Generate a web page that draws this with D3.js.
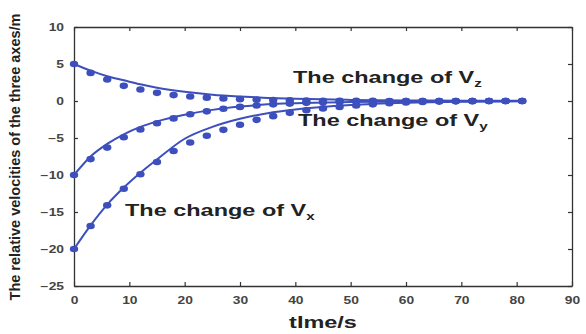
<!DOCTYPE html>
<html>
<head>
<meta charset="utf-8">
<script src="https://cdn.jsdelivr.net/npm/d3@7"></script>
<style>
  body { margin: 0; background: #fff; }
  svg { display: block; font-family: "Liberation Sans", Arial, sans-serif; }
</style>
</head>
<body>
<div id="chart"></div>
<script>
// Set up dimensions
const width = 586;
const height = 334;
const margin = { top: 27, right: 14, bottom: 48, left: 74 };
const innerWidth = width - margin.left - margin.right;
const innerHeight = height - margin.top - margin.bottom;
const stretch = 1.38; // the source picture is widened horizontally

// Data
const sampleTimes = [0, 3, 6, 9, 12, 15, 18, 21, 24, 27, 30, 33, 36, 39, 42, 45, 48, 51, 54, 57, 60, 63, 66, 69, 72, 75, 78, 81];
const vzPoints = [5, 3.8, 2.9, 2.05, 1.55, 1.1, 0.8, 0.6, 0.45, 0.33, 0.25, 0.18, 0.12, 0.08, 0.05, 0.04, 0.03, 0.02, 0.02, 0.01, 0.01, 0, 0, 0, 0, 0, 0, 0];
const vyPoints = [-10, -7.85, -6.3, -4.9, -3.85, -3.0, -2.35, -1.8, -1.4, -1.05, -0.8, -0.6, -0.45, -0.35, -0.25, -0.18, -0.12, -0.08, -0.05, -0.03, -0.02, -0.01, 0, 0, 0, 0, 0, 0];
const vxPoints = [-20, -16.9, -14.1, -11.85, -9.9, -8.25, -6.75, -5.6, -4.7, -3.9, -3.2, -2.55, -2.05, -1.6, -1.25, -1.0, -0.8, -0.6, -0.45, -0.3, -0.2, -0.12, -0.08, -0.05, -0.02, 0, 0, 0];

// Fitted curves
const fitTimes = [0, 3, 6, 9, 12, 15, 20, 25, 30, 35, 40, 50, 60, 70, 81];
const vzFit = [5, 4.1, 3.35, 2.8, 2.25, 1.8, 1.25, 0.85, 0.6, 0.42, 0.3, 0.15, 0.08, 0.04, 0.02];
const vyFit = [-10, -7.5, -5.8, -4.5, -3.5, -2.75, -1.85, -1.2, -0.75, -0.45, -0.3, -0.15, -0.07, -0.03, -0.01];
const vxFit = [-20, -16.8, -14.0, -11.7, -9.7, -7.9, -5.1, -3.5, -2.4, -1.65, -1.15, -0.55, -0.25, -0.1, -0.04];

const xTicks = [0, 10, 20, 30, 40, 50, 60, 70, 80, 90];
const yTicks = [-25, -20, -15, -10, -5, 0, 5, 10];

const blue = "#3c4fbc";

// widen a text (or tspan) without transforms
function widen(sel) {
    sel.each(function () {
        const len = this.getComputedTextLength();
        d3.select(this)
            .attr("textLength", len * stretch)
            .attr("lengthAdjust", "spacingAndGlyphs");
    });
}

const svg = d3.select("#chart").append("svg")
    .attr("width", width)
    .attr("height", height);

const chart = svg.append("g")
    .attr("transform", `translate(${margin.left}, ${margin.top})`);

const xScale = d3.scaleLinear().domain([0, 90]).range([0, innerWidth]);
const yScale = d3.scaleLinear().domain([-25, 10]).range([innerHeight, 0]);

// Axes with inward ticks
const xAxisGroup = chart.append("g")
    .attr("transform", `translate(0, ${innerHeight})`)
    .call(d3.axisBottom(xScale).tickValues(xTicks).tickSizeInner(-4).tickSizeOuter(0).tickPadding(11));
const yAxisGroup = chart.append("g")
    .call(d3.axisLeft(yScale).tickValues(yTicks).tickSizeInner(-4).tickSizeOuter(0).tickPadding(10));
const topAxisGroup = chart.append("g")
    .call(d3.axisTop(xScale).tickValues(xTicks).tickSizeInner(-4).tickSizeOuter(0));
const rightAxisGroup = chart.append("g")
    .attr("transform", `translate(${innerWidth}, 0)`)
    .call(d3.axisRight(yScale).tickValues(yTicks).tickSizeInner(-4).tickSizeOuter(0));

// top and right frame carry ticks only
topAxisGroup.selectAll("text").remove();
rightAxisGroup.selectAll("text").remove();

chart.selectAll(".domain").attr("stroke", "#333").attr("stroke-width", 1.3);
chart.selectAll(".tick line").attr("stroke", "#333").attr("stroke-width", 1.2);

xAxisGroup.selectAll("text")
    .style("font-size", "10px")
    .style("font-weight", "bold")
    .attr("fill", "#444")
    .call(widen);
yAxisGroup.selectAll("text")
    .style("font-size", "10px")
    .style("font-weight", "bold")
    .attr("fill", "#444")
    .call(widen);

// Fitted lines
const line = d3.line()
    .x((d) => xScale(d[0]))
    .y((d) => yScale(d[1]))
    .curve(d3.curveMonotoneX);

[vzFit, vyFit, vxFit].forEach((fit) => {
    chart.append("path")
        .datum(fitTimes.map((t, i) => [t, fit[i]]))
        .attr("fill", "none")
        .attr("stroke", blue)
        .attr("stroke-width", 2)
        .attr("d", line);
});

// Sampled points
[vzPoints, vyPoints, vxPoints].forEach((pts) => {
    chart.selectAll(null)
        .data(sampleTimes.map((t, i) => [t, pts[i]]))
        .enter()
        .append("ellipse")
        .attr("cx", (d) => xScale(d[0]))
        .attr("cy", (d) => yScale(d[1]))
        .attr("rx", 4.2)
        .attr("ry", 3.3)
        .attr("fill", blue);
});

// Series labels
const labels = [
    { x: 293, y: 83, sub: "z" },
    { x: 298, y: 126, sub: "y" },
    { x: 125, y: 216, sub: "x" },
];
labels.forEach((l) => {
    const t = svg.append("text")
        .attr("x", l.x)
        .attr("y", l.y)
        .style("font-size", "17px")
        .style("font-weight", "bold")
        .attr("fill", "#222");
    t.append("tspan").text("The change of V").call(widen);
    t.append("tspan").attr("dy", 4).style("font-size", "11px").text(l.sub).call(widen);
});

// Axis titles
svg.append("text")
    .attr("x", margin.left + innerWidth / 2)
    .attr("y", 328)
    .attr("text-anchor", "middle")
    .style("font-size", "17px")
    .style("font-weight", "bold")
    .attr("fill", "#222")
    .text("tIme/s")
    .call(widen);

svg.append("text")
    .attr("transform", "translate(20, 157) rotate(-90)")
    .attr("text-anchor", "middle")
    .style("font-size", "14.5px")
    .style("font-weight", "bold")
    .attr("fill", "#222")
    .text("The relative velocities of the three axes/m");
</script>
</body>
</html>
